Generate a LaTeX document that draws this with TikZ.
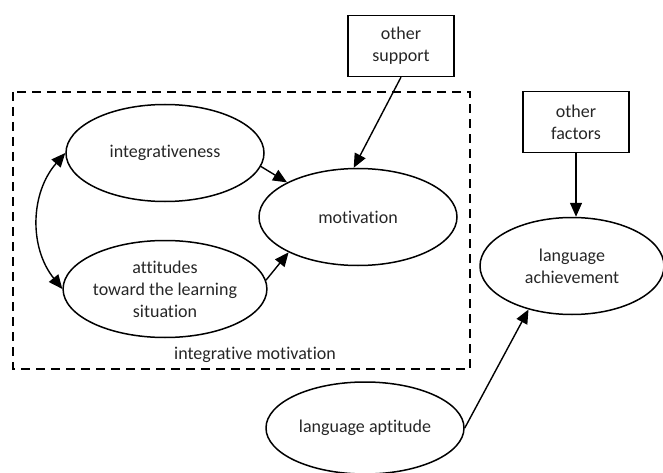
\documentclass[tikz,border=0pt]{standalone}
\usepackage{fontspec}
\setmainfont{Carlito}[Ligatures=NoCommon]
\usetikzlibrary{shapes.geometric,arrows.meta}
\tikzset{
  oval/.style={draw,ellipse,line width=1.5pt,inner sep=0pt,align=center,
    minimum width=198pt,minimum height=97pt},
  factor/.style={draw,rectangle,line width=1.3pt,inner sep=0pt,align=center,
    minimum width=106pt,minimum height=61pt},
  link/.style={line width=1.4pt,-{Triangle[length=14pt,width=12pt]}}
}
\begin{document}
\begin{tikzpicture}[x=1pt,y=-1pt,font=\fontsize{18}{22}\selectfont,text=black!85]
\useasboundingbox (0,0) rectangle (663,473);
\draw[line width=1.4pt,dash pattern=on 9pt off 6pt] (13,92) rectangle (470,369);
\node (grp) at (255,355) {integrative motivation};
\node[oval] (integ) at (165,153) {integrativeness};
\node[oval] (att) at (165,289) {attitudes\\toward the learning\\situation};
\node[oval] (motiv) at (358,217) {motivation};
\node[factor] (osup) at (401,46) {other\\support};
\node[factor] (ofac) at (576,122) {other\\factors};
\node[oval,minimum width=184pt] (ach) at (572,266) {language\\achievement};
\node[oval,minimum height=92pt] (apt) at (365,428) {language aptitude};
\draw[link] (integ.-8) -- (motiv.154);
\draw[link] (att.5) -- (motiv.207);
\draw[link] (osup.south) -- (motiv.95);
\draw[link] (ofac.south) -- (ofac.south |- ach.north);
\draw[link] (apt.east) -- (ach.225);
\draw[line width=1.4pt,{Triangle[length=14pt,width=12pt]}-{Triangle[length=14pt,width=12pt]}]
  (integ.west) to[bend right=40] (att.west);
\end{tikzpicture}
\end{document}
